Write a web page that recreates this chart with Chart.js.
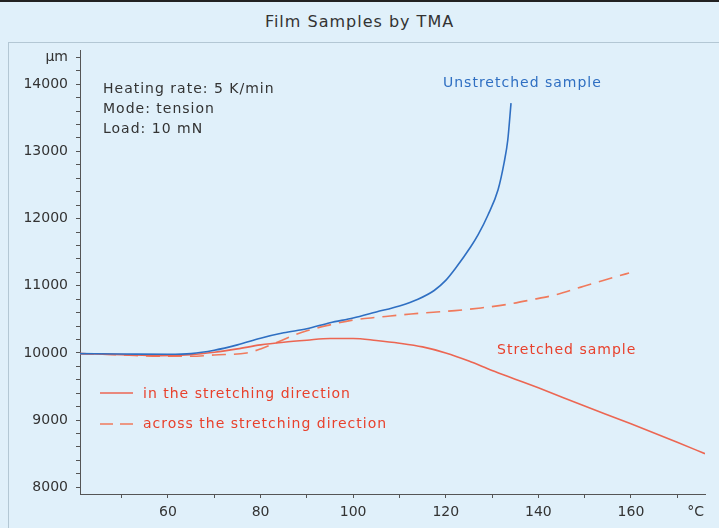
<!DOCTYPE html>
<html>
<head>
<meta charset="utf-8">
<script src="https://cdn.jsdelivr.net/npm/chart.js@4"></script>
<style>
  body { margin: 0; }
  #wrap { position: relative; width: 719px; height: 528px; background: #e0f0fa; overflow: hidden; font-family: "DejaVu Sans", sans-serif; }
  #topline { position: absolute; left: 0; top: 0; width: 719px; height: 2px; background: #222; }
  #title { position: absolute; left: 0; top: 12px; width: 719px; text-align: center; font-size: 16px; letter-spacing: 1px; color: #333; }
  #panel { position: absolute; left: 8px; top: 42px; right: 0; bottom: 0; border-left: 1px solid #b3c7d4; border-top: 1px solid #b3c7d4; }
  #chart { position: absolute; left: 0; top: 0; }
</style>
</head>
<body>
<div id="wrap">
  <div id="topline"></div>
  <div id="title">Film Samples by TMA</div>
  <div id="panel"></div>
  <canvas id="chart" width="719" height="528"></canvas>
</div>
<script>
// ----------------------------
// DATA
// ----------------------------
const unstretchedTemp = [41, 50, 60, 65, 70, 75, 80, 85, 90, 95, 100, 105, 110, 114, 117.5, 120, 122, 125.4, 127, 129.1, 131.3, 132.6, 133.4, 134.1];
const unstretchedLen = [9990, 9985, 9980, 9990, 10040, 10120, 10220, 10300, 10360, 10450, 10520, 10610, 10700, 10800, 10930, 11080, 11250, 11580, 11760, 12050, 12430, 12830, 13170, 13720];

const alongTemp = [41, 50, 58, 65, 70, 75, 80, 85, 90, 95, 100, 105, 110, 115, 120, 125, 130, 135, 140, 150, 160, 170, 176];
const alongLen = [9990, 9975, 9960, 9975, 10010, 10060, 10120, 10160, 10190, 10215, 10215, 10185, 10145, 10090, 10000, 9880, 9740, 9610, 9480, 9210, 8945, 8670, 8500];

const acrossTemp = [41, 50, 58, 65, 70, 77, 80, 84, 87, 90, 94.5, 100, 105, 108, 112.5, 118, 122, 127.6, 133, 138.4, 144, 149.2, 154, 157, 159.6];
const acrossLen = [9990, 9970, 9950, 9950, 9970, 10000, 10060, 10170, 10260, 10330, 10410, 10490, 10530, 10550, 10580, 10610, 10630, 10670, 10720, 10790, 10870, 10980, 11080, 11140, 11190];

const xTicks = [50, 60, 70, 80, 90, 100, 110, 120, 130, 140, 150, 160, 170, 174];
const xLabels = { 60: "60", 80: "80", 100: "100", 120: "120", 140: "140", 160: "160", 174: "°C" };
const yTicks = [8000, 8200, 8400, 8600, 8800, 9000, 9200, 9400, 9600, 9800, 10000, 10200, 10400, 10600, 10800, 11000, 11200, 11400, 11600, 11800, 12000, 12200, 12400, 12600, 12800, 13000, 13200, 13400, 13600, 13800, 14000, 14200, 14400];
const yLabels = { 8000: "8000", 9000: "9000", 10000: "10000", 11000: "11000", 12000: "12000", 13000: "13000", 14000: "14000", 14400: "µm" };

const infoLines = ["Heating rate: 5 K/min", "Mode: tension", "Load: 10 mN"];
const legendLabels = ["in the stretching direction", "across the stretching direction"];

// ----------------------------
// COLOURS
// ----------------------------
const blue = "#2f6fc2";
const redSolid = "#ec6652";
const redDash = "#f07a5c";
const redText = "#e8412c";

function toPoints(xs, ys) {
  return xs.map((x, i) => ({ x: x, y: ys[i] }));
}

// ----------------------------
// ANNOTATIONS (text + legend inside plot)
// ----------------------------
const annotations = {
  id: "annotations",
  afterDraw(chart) {
    const c = chart.ctx;
    c.save();
    c.font = '14px "DejaVu Sans"';
    c.letterSpacing = "1px";
    c.textBaseline = "middle";
    c.textAlign = "left";

    c.fillStyle = "#333";
    infoLines.forEach((t, i) => c.fillText(t, 103, 89 + i * 20));

    c.fillStyle = blue;
    c.fillText("Unstretched sample", 443, 83);

    c.fillStyle = redText;
    c.fillText("Stretched sample", 497, 350);

    // legend
    c.lineWidth = 1.6;
    c.strokeStyle = redSolid;
    c.beginPath();
    c.moveTo(100, 393);
    c.lineTo(133, 393);
    c.stroke();
    c.strokeStyle = redDash;
    c.setLineDash([13, 7]);
    c.beginPath();
    c.moveTo(100, 424);
    c.lineTo(133, 424);
    c.stroke();
    c.setLineDash([]);

    c.fillStyle = redText;
    c.fillText(legendLabels[0], 143, 394);
    c.fillText(legendLabels[1], 143, 424);
    c.letterSpacing = "0px";
    c.restore();
  },
};

// ----------------------------
// CHART
// ----------------------------
const ctx = document.getElementById("chart");
new Chart(ctx, {
  type: "line",
  data: {
    datasets: [
      {
        label: "Unstretched sample",
        data: toPoints(unstretchedTemp, unstretchedLen),
        borderColor: blue,
        borderWidth: 1.6,
        pointRadius: 0,
        cubicInterpolationMode: "monotone",
      },
      {
        label: legendLabels[0],
        data: toPoints(alongTemp, alongLen),
        borderColor: redSolid,
        borderWidth: 1.6,
        pointRadius: 0,
        cubicInterpolationMode: "monotone",
      },
      {
        label: legendLabels[1],
        data: toPoints(acrossTemp, acrossLen),
        borderColor: redDash,
        borderWidth: 1.6,
        borderDash: [14, 8],
        pointRadius: 0,
        cubicInterpolationMode: "monotone",
      },
    ],
  },
  options: {
    responsive: false,
    animation: false,
    layout: { padding: { top: 50, right: 14, left: 0, bottom: 0 } },
    plugins: {
      legend: { display: false },
      title: { display: false },
      tooltip: { enabled: false },
    },
    scales: {
      x: {
        type: "linear",
        min: 41,
        max: 176,
        afterFit: (s) => { s.height = 34; },
        afterBuildTicks: (s) => { s.ticks = xTicks.map((v) => ({ value: v })); },
        border: { color: "#555", width: 1 },
        grid: {
          drawOnChartArea: false,
          tickLength: 4,
          tickColor: (c) => (c.tick && c.tick.value === 174 ? "rgba(0,0,0,0)" : "#555"),
        },
        ticks: {
          autoSkip: false,
          maxRotation: 0,
          padding: 6,
          color: "#333",
          font: { family: "DejaVu Sans", size: 14 },
          callback: (v) => xLabels[v] || "",
        },
      },
      y: {
        type: "linear",
        min: 7900,
        max: 14510,
        afterFit: (s) => { s.width = 80; },
        afterBuildTicks: (s) => { s.ticks = yTicks.map((v) => ({ value: v })); },
        border: { color: "#555", width: 1 },
        grid: {
          drawOnChartArea: false,
          tickLength: 4,
          tickColor: "#555",
        },
        ticks: {
          autoSkip: false,
          padding: 8,
          color: "#333",
          font: { family: "DejaVu Sans", size: 14 },
          callback: (v) => yLabels[v] || "",
        },
      },
    },
  },
  plugins: [annotations],
});
</script>
</body>
</html>
